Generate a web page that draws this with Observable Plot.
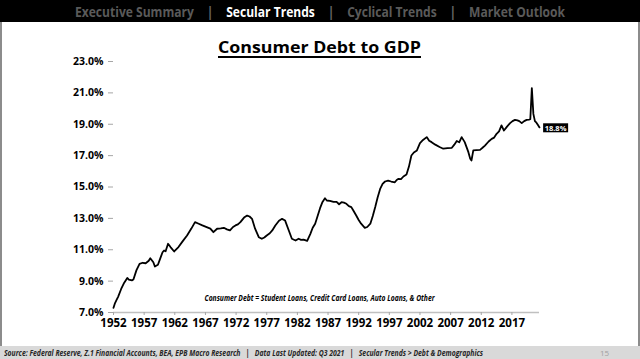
<!DOCTYPE html>
<html>
<head>
<meta charset="utf-8">
<script src="https://cdn.jsdelivr.net/npm/d3@7"></script>
<script src="https://cdn.jsdelivr.net/npm/@observablehq/plot@0.6"></script>
<style>
  html, body { margin: 0; padding: 0; background: #fff; }
  #page { position: relative; width: 640px; height: 359px; overflow: hidden; background: #fff; font-family: "Open Sans", sans-serif; }
  #header { position: absolute; left: 0; top: 0; width: 640px; height: 22px; background: #000; }
  #headtext { position: absolute; top: 0; white-space: nowrap; font-weight: 700; font-size: 15px; line-height: 22px; color: #5a5a5a; }
  #headtext .on { color: #fff; }
  #headtext .sep { padding: 0 16px; color: #6a6a6a; }
  #slide { position: absolute; left: 0; top: 22px; width: 636px; height: 324px; border-left: 2px solid #8c8c8c; border-right: 2px solid #8c8c8c; }
  #chart { position: absolute; left: 0; top: 22px; }
  #title { position: absolute; top: 38px; white-space: nowrap; font-weight: 700; font-size: 16.5px; line-height: 18px; color: #000; text-decoration: underline; text-decoration-thickness: 1.5px; text-underline-offset: 3px; }
  #footer { position: absolute; left: 0; top: 346px; width: 640px; height: 13px; background: #d9d9d9; }
  #foottext { position: absolute; top: 0; white-space: nowrap; font-weight: 700; font-style: italic; font-size: 8px; line-height: 13px; color: #262626; }
  #pagenum { position: absolute; left: 600px; top: 0; font-size: 8px; line-height: 13px; color: #a0a0a0; }
</style>
</head>
<body>
<div id="page">
  <div id="slide"></div>
  <div id="chart"></div>
  <div id="header"><div id="headtext"></div></div>
  <div id="title"></div>
  <div id="footer"><div id="foottext"></div><div id="pagenum"></div></div>
</div>
<script>
// ---------- data ----------
const navItems = ["Executive Summary", "Secular Trends", "Cyclical Trends", "Market Outlook"];
const activeNav = "Secular Trends";
const titleText = "Consumer Debt to GDP";
const noteText = "Consumer Debt = Student Loans, Credit Card Loans, Auto Loans, & Other";
const footerText = "Source: Federal Reserve, Z.1 Financial Accounts, BEA, EPB Macro Research   |   Data Last Updated: Q3 2021   |   Secular Trends > Debt & Demographics";
const pageNumber = "15";

const years = [
  1952.0, 1952.25, 1952.5, 1952.75, 1953.25, 1953.75, 1954.25, 1954.5, 1955.0, 1955.25,
  1955.75, 1956.25, 1956.75, 1957.25, 1957.75, 1958.0, 1958.5, 1958.75, 1959.25, 1959.6,
  1960.0, 1960.25, 1960.5, 1960.9, 1961.3, 1961.9, 1962.6, 1963.3, 1964.0, 1964.7,
  1965.3, 1965.9, 1966.5, 1967.2, 1967.8, 1968.3, 1968.9, 1969.5, 1970.0, 1970.5,
  1971.0, 1971.5, 1971.9, 1972.3, 1972.7, 1973.3, 1973.8, 1974.2, 1974.6, 1975.1,
  1975.7, 1976.2, 1976.6, 1977.0, 1977.5, 1977.9, 1978.4, 1979.0, 1979.5, 1980.0,
  1980.6, 1981.1, 1981.7, 1982.2, 1982.6, 1983.0, 1983.6, 1984.1, 1984.5, 1984.9,
  1985.3, 1985.7, 1986.1, 1986.5, 1986.8, 1987.3, 1987.9, 1988.4, 1988.8, 1989.2,
  1989.6, 1990.0, 1990.4, 1990.8, 1991.2, 1991.6, 1992.0, 1992.4, 1993.0, 1993.4,
  1993.9, 1994.3, 1994.7, 1995.1, 1995.5, 1995.9, 1996.3, 1996.8, 1997.3, 1997.9,
  1998.2, 1998.5, 1998.9, 1999.3, 1999.8, 2000.2, 2000.6, 2001.0, 2001.5, 2002.0,
  2002.5, 2003.1, 2003.5, 2003.9, 2004.5, 2005.2, 2005.8, 2006.5, 2007.2, 2007.6,
  2008.0, 2008.4, 2008.8, 2009.3, 2009.9, 2010.2, 2010.4, 2010.7, 2011.2, 2011.8,
  2012.2, 2012.6, 2013.2, 2013.7, 2014.1, 2014.5, 2014.9, 2015.3, 2015.7, 2016.2,
  2016.7, 2017.1, 2017.5, 2017.9, 2018.2, 2018.6, 2019.0, 2019.4, 2019.8, 2020.0,
  2020.25, 2020.5, 2020.75, 2021.0, 2021.25, 2021.5
];
const debtToGdp = [
  7.3, 7.6, 7.8, 8.0, 8.5, 8.9, 9.2, 9.1, 9.05, 9.1,
  9.7, 10.1, 10.17, 10.14, 10.3, 10.46, 10.2, 9.93, 10.04, 10.42,
  10.84, 10.95, 10.9, 11.38, 11.17, 10.89, 11.17, 11.55, 11.91, 12.35,
  12.76, 12.66, 12.55, 12.44, 12.35, 12.12, 12.34, 12.36, 12.40, 12.3,
  12.23, 12.45, 12.55, 12.62, 12.76, 13.05, 13.18, 13.12, 12.97, 12.34,
  11.80, 11.70, 11.78, 11.91, 12.05, 12.23, 12.55, 12.85, 12.97, 12.86,
  12.23, 11.70, 11.59, 11.70, 11.63, 11.65, 11.57, 12.0, 12.4, 12.66,
  13.15, 13.65, 14.05, 14.28, 14.14, 14.12, 14.05, 14.05, 13.90, 14.03,
  14.0, 13.93, 13.78, 13.72, 13.45, 13.18, 12.9, 12.66, 12.40, 12.45,
  12.66, 13.15, 13.72, 14.35, 14.88, 15.2, 15.35, 15.41, 15.35, 15.30,
  15.45, 15.52, 15.5, 15.67, 15.80, 16.3, 17.01, 17.2, 17.33, 17.80,
  18.0, 18.18, 17.95, 17.86, 17.7, 17.55, 17.44, 17.48, 17.50, 17.7,
  17.93, 17.85, 18.18, 17.86, 17.22, 16.8, 16.69, 17.33, 17.35, 17.37,
  17.5, 17.64, 17.9, 18.07, 18.15, 18.39, 18.55, 18.93, 18.60, 18.85,
  19.07, 19.2, 19.28, 19.25, 19.20, 19.07, 19.2, 19.28, 19.3, 19.32,
  21.3, 19.66, 19.2, 19.1, 18.95, 18.8
];
const xTicks = [1952, 1957, 1962, 1967, 1972, 1977, 1982, 1987, 1992, 1997, 2002, 2007, 2012, 2017];
const yTicks = [7, 9, 11, 13, 15, 17, 19, 21, 23];

// ---------- helpers ----------
function fitX(el, left, width) {
  el.style.left = left + "px";
  el.style.transformOrigin = "0 50%";
  const w = el.getBoundingClientRect().width;
  el.style.transform = `scaleX(${width / w})`;
}

// ---------- header ----------
const head = document.getElementById("headtext");
navItems.forEach((n, i) => {
  if (i > 0) { const s = document.createElement("span"); s.className = "sep"; s.textContent = "|"; head.appendChild(s); }
  const sp = document.createElement("span");
  sp.textContent = n;
  if (n === activeNav) sp.className = "on";
  head.appendChild(sp);
});
fitX(head, 75, 490);

// ---------- title ----------
const t = document.getElementById("title");
t.textContent = titleText;
fitX(t, 218, 203);

// ---------- footer ----------
const ft = document.getElementById("foottext");
ft.textContent = footerText;
ft.style.whiteSpace = "pre";
fitX(ft, 4, 479);
document.getElementById("pagenum").textContent = pageNumber;

// ---------- chart ----------
const data = years.map((y, i) => ({year: y, value: debtToGdp[i]}));
const last = data[data.length - 1];

const chart = Plot.plot({
  width: 640,
  height: 324,
  marginLeft: 113,
  marginRight: 101,
  marginTop: 39,
  marginBottom: 34,
  style: {fontFamily: "Open Sans, sans-serif", background: "transparent", overflow: "visible"},
  x: {domain: [1952, 2021.5], label: null},
  y: {domain: [7, 23], label: null},
  marks: [
    Plot.ruleY([7], {stroke: "#c0c0c0", strokeWidth: 1.5}),
    Plot.axisX({ticks: xTicks, tickFormat: d => String(d), tickSize: 3, tickPadding: 3,
      stroke: "#a6a6a6", fill: "#000", fontWeight: "bold", fontSize: 11.5, label: null}),
    Plot.axisY({ticks: yTicks, tickFormat: d => d.toFixed(1) + "%", tickSize: 5, tickPadding: 5,
      stroke: "#a6a6a6", fill: "#000", fontWeight: "bold", fontSize: 10.5, label: null}),
    Plot.line(data, {x: "year", y: "value", stroke: "#000", strokeWidth: 1.8}),
    Plot.text([noteText], {frameAnchor: "bottom", text: d => d, dx: -7, dy: -12,
      fontSize: 8, fontWeight: "bold", fontStyle: "italic", fill: "#000"}),
    Plot.text([last], {x: "year", y: "value", text: d => d.value.toFixed(1) + "%", dx: 16, dy: 1,
      fontSize: 7.5, fontWeight: "bold", fill: "#fff", textAnchor: "middle"})
  ]
});
document.getElementById("chart").appendChild(chart);

// post-process: fit note width, box behind end label
chart.querySelectorAll("text").forEach(el => {
  if (el.textContent === noteText) {
    el.setAttribute("textLength", 230);
    el.setAttribute("lengthAdjust", "spacingAndGlyphs");
  }
  if (el.textContent === last.value.toFixed(1) + "%" && el.getAttribute("fill") !== null || (el.textContent === last.value.toFixed(1) + "%" && el.closest("g") && el.closest("g").getAttribute("fill") === "#fff")) {
    const b = el.getBBox();
    const ctm = el.getAttribute("transform");
    const r = document.createElementNS("http://www.w3.org/2000/svg", "rect");
    r.setAttribute("x", b.x - 1.5);
    r.setAttribute("y", b.y + 0.5);
    r.setAttribute("width", b.width + 3);
    r.setAttribute("height", b.height - 1);
    r.setAttribute("fill", "#000");
    if (ctm) r.setAttribute("transform", ctm);
    el.parentNode.insertBefore(r, el);
  }
});
</script>
</body>
</html>
